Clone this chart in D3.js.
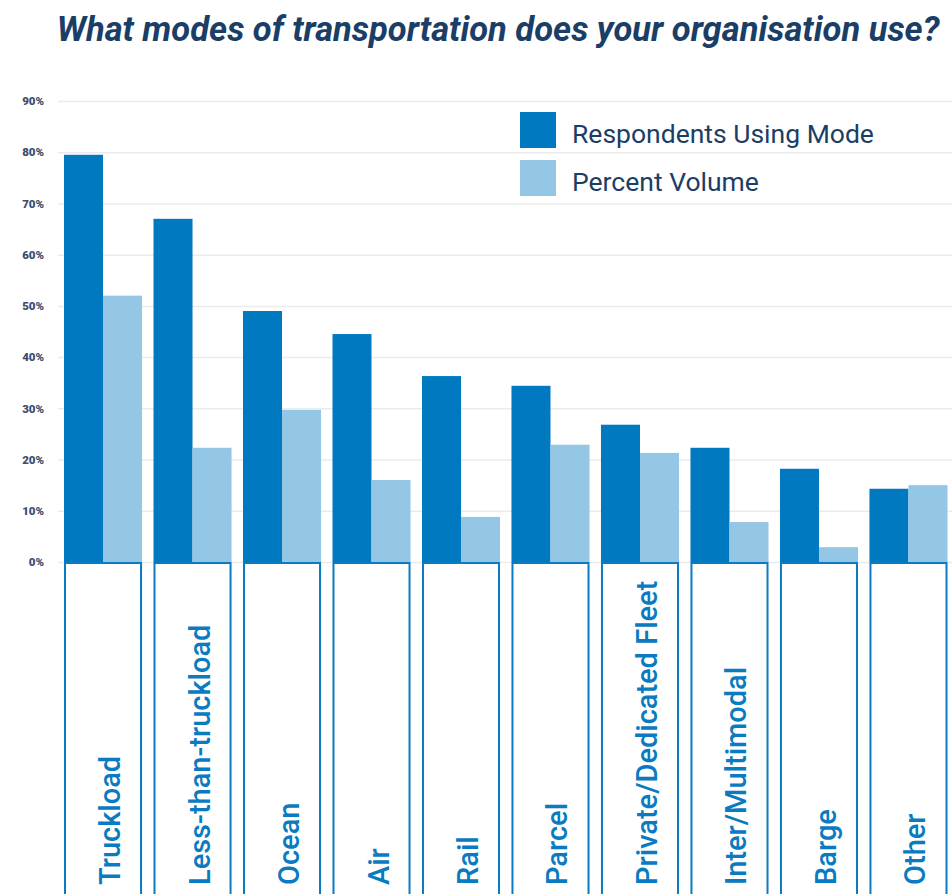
<!DOCTYPE html>
<html>
<head>
<meta charset="utf-8">
<script src="https://cdn.jsdelivr.net/npm/d3@7"></script>
<style>
  body { margin: 0; background: #fff; }
  svg { display: block; }
</style>
</head>
<body>
<svg id="chart"></svg>
<script>
const categories = ["Truckload", "Less-than-truckload", "Ocean", "Air", "Rail", "Parcel",
  "Private/Dedicated Fleet", "Inter/Multimodal", "Barge", "Other"];
const respondents = [79.5, 67.0, 49.0, 44.5, 36.3, 34.4, 26.8, 22.3, 18.2, 14.3];
const volume = [52.0, 22.3, 29.7, 16.0, 8.8, 22.9, 21.3, 7.8, 2.9, 15.0];
const seriesNames = ["Respondents Using Mode", "Percent Volume"];
const yTicks = [0, 10, 20, 30, 40, 50, 60, 70, 80, 90];

const W = 952, H = 894;
const colors = ["#0079c1", "#94c6e5"];

const svg = d3.select("#chart").attr("width", W).attr("height", H);

// scales
const x = d3.scaleBand().domain(categories).range([64, 947.5]).paddingInner(0.128).paddingOuter(0);
const xs = d3.scaleBand().domain(seriesNames).range([0, x.bandwidth()]);
const y = d3.scaleLinear().domain([0, 90]).range([562, 101]);

// title
svg.append("text")
  .attr("x", 498).attr("y", 41)
  .attr("text-anchor", "middle")
  .attr("font-family", "Roboto, sans-serif")
  .attr("font-style", "italic").attr("font-weight", 700)
  .attr("font-size", 34.5)
  .attr("fill", "#1b3e66")
  .text("What modes of transportation does your organisation use?");

// gridlines + y axis
const yAxis = d3.axisLeft(y).tickValues(yTicks).tickFormat(d => d + "%")
  .tickSize(-(W - 58)).tickPadding(14);
const yg = svg.append("g").attr("transform", "translate(58,0)").call(yAxis);
yg.select(".domain").remove();
yg.selectAll(".tick line").attr("stroke", "#ebebeb").attr("stroke-width", 1.5);
yg.selectAll(".tick text")
  .attr("font-family", "Roboto, sans-serif").attr("font-weight", 900)
  .attr("font-size", 11.5).attr("fill", "#3a4d6e");

// bars
const rows = categories.map((c, i) => ({cat: c, vals: [respondents[i], volume[i]]}));
const groups = svg.append("g").selectAll("g").data(rows).enter().append("g")
  .attr("transform", d => `translate(${x(d.cat)},0)`);

groups.selectAll("rect").data(d => d.vals.map((v, j) => ({key: seriesNames[j], v, j})))
  .enter().append("rect")
  .attr("x", d => xs(d.key))
  .attr("y", d => y(d.v))
  .attr("width", xs.bandwidth())
  .attr("height", d => y(0) - y(d.v))
  .attr("fill", d => colors[d.j]);

// category label boxes
groups.append("rect")
  .attr("x", 1).attr("y", y(0) + 1)
  .attr("width", x.bandwidth() - 2).attr("height", H)
  .attr("fill", "none").attr("stroke", "#0a7bc1").attr("stroke-width", 2);

groups.append("text")
  .attr("transform", `translate(${x.bandwidth() / 2 + 17},885) rotate(-90)`)
  .attr("font-family", "Roboto, sans-serif").attr("font-weight", 500)
  .attr("font-size", 29).attr("fill", "#0a7bc1")
  .text(d => d.cat);

// legend
const legend = svg.append("g").attr("transform", "translate(520,112)");
const li = legend.selectAll("g").data(seriesNames).enter().append("g")
  .attr("transform", (d, i) => `translate(0,${i * 48})`);
li.append("rect").attr("width", 36).attr("height", 36).attr("fill", (d, i) => colors[i]);
li.append("text").attr("x", 52).attr("y", 31)
  .attr("font-family", "Roboto, sans-serif").attr("font-size", 26.5)
  .attr("fill", "#1b3e66")
  .text(d => d);
</script>
</body>
</html>
